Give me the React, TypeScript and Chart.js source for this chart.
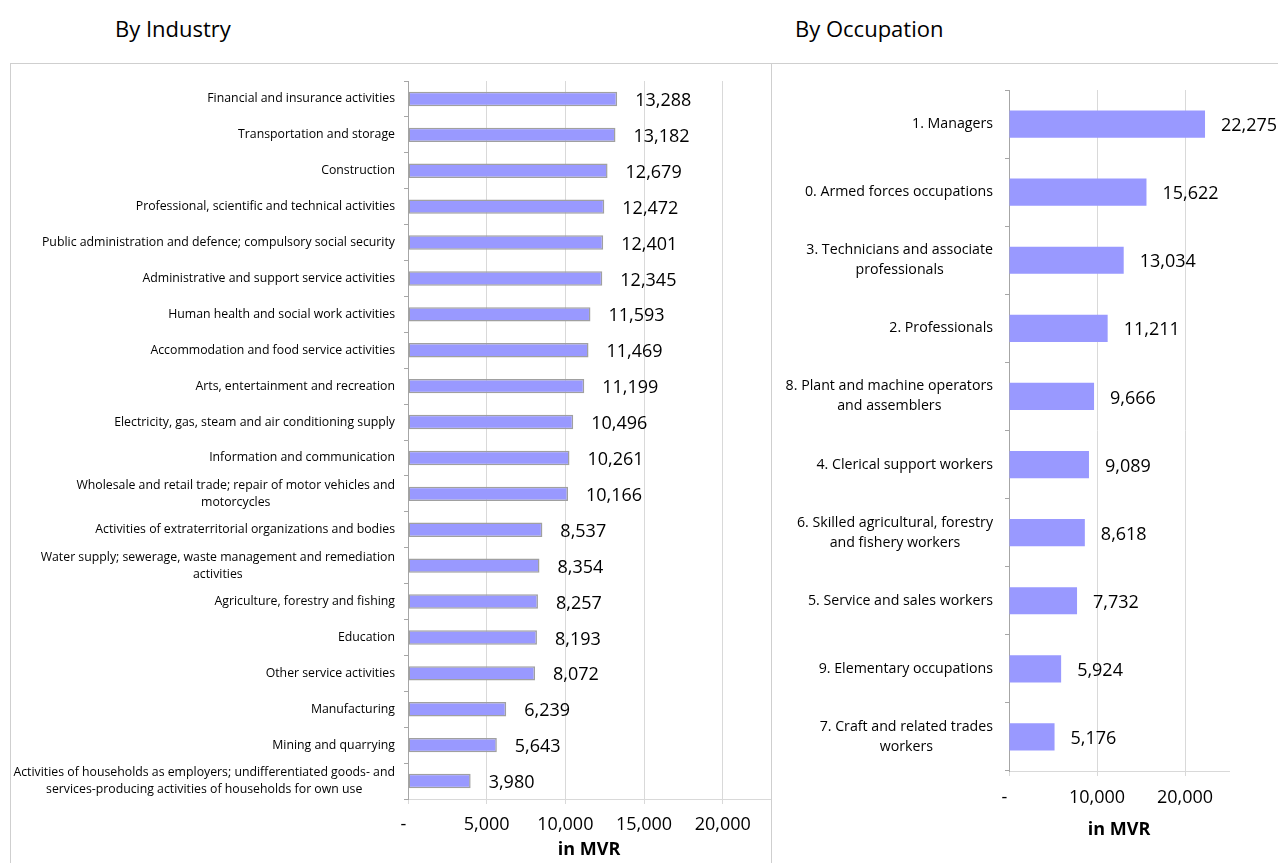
import React, { useEffect, useRef } from "react";
import { Chart, registerables } from "chart.js";

Chart.register(...registerables);

const FONT = "'Open Sans', 'Noto Sans', sans-serif";

// Average monthly wage by industry (MVR)
const industryLabels: (string | string[])[] = [
  "Financial and insurance activities",
  "Transportation and storage",
  "Construction",
  "Professional, scientific and technical activities",
  "Public administration and defence; compulsory social security",
  "Administrative and support service activities",
  "Human health and social work activities",
  "Accommodation and food service activities",
  "Arts, entertainment and recreation",
  "Electricity, gas, steam and air conditioning supply",
  "Information and communication",
  ["Wholesale and retail trade; repair of motor vehicles and", "motorcycles"],
  "Activities of extraterritorial organizations and bodies",
  ["Water supply; sewerage, waste management and remediation", "activities"],
  "Agriculture, forestry and fishing",
  "Education",
  "Other service activities",
  "Manufacturing",
  "Mining and quarrying",
  [
    "Activities of households as employers; undifferentiated goods- and",
    "services-producing activities of households for own use",
  ],
];
const industryValues = [
  13288, 13182, 12679, 12472, 12401, 12345, 11593, 11469, 11199, 10496, 10261,
  10166, 8537, 8354, 8257, 8193, 8072, 6239, 5643, 3980,
];

// Average monthly wage by occupation (MVR)
const occupationLabels: (string | string[])[] = [
  "1. Managers",
  "0. Armed forces occupations",
  ["3. Technicians and associate", "professionals"],
  "2. Professionals",
  ["8. Plant and machine operators", "and assemblers"],
  "4. Clerical support workers",
  ["6. Skilled agricultural, forestry", "and fishery workers"],
  "5. Service and sales workers",
  "9. Elementary occupations",
  ["7. Craft and related trades", "workers"],
];
const occupationValues = [22275, 15622, 13034, 11211, 9666, 9089, 8618, 7732, 5924, 5176];

const industryTicks = [0, 5000, 10000, 15000, 20000];
const occupationTicks = [0, 10000, 20000];
const axisTitle = "in MVR";

const fmt = (v: number) => v.toLocaleString("en-US");
const tickFmt = (v: number) => (v === 0 ? "-  " : fmt(v));

type PanelCfg = {
  labels: (string | string[])[];
  values: number[];
  ticks: number[];
  max: number;
  step: number;
  padding: { top: number; right: number; left: number; bottom: number };
  yWidth: number;
  xHeight: number;
  tickPad: number;
  titlePadBottom: number;
  catFont: number;
  catLineHeight: number;
  catGap: number;
  valueGap: number;
  barBorder: number;
};

// Draws wrapped category names (each block right-aligned, lines centred within it)
// and the value labels to the right of each bar.
function makeLabelPlugin(id: string, cfg: PanelCfg) {
  return {
    id,
    afterDatasetsDraw(chart: any) {
      const ctx = chart.ctx as CanvasRenderingContext2D;
      const y = chart.scales.y;
      ctx.save();
      ctx.fillStyle = "#000";
      ctx.textBaseline = "middle";
      ctx.font = `${cfg.catFont}px ${FONT}`;
      ctx.textAlign = "center";
      const right = chart.chartArea.left - cfg.catGap;
      cfg.labels.forEach((lab, i) => {
        const lines = Array.isArray(lab) ? lab : [lab];
        const w = Math.max(...lines.map((l) => ctx.measureText(l).width));
        const cx = right - w / 2;
        const cy = y.getPixelForTick(i);
        const start = cy - ((lines.length - 1) * cfg.catLineHeight) / 2;
        lines.forEach((l, k) => ctx.fillText(l, cx, start + k * cfg.catLineHeight));
      });
      ctx.font = `18px ${FONT}`;
      ctx.textAlign = "left";
      const meta = chart.getDatasetMeta(0);
      meta.data.forEach((bar: any, i: number) => {
        ctx.fillText(fmt(cfg.values[i]), bar.x + cfg.valueGap, bar.y + 2);
      });
      ctx.restore();
    },
  };
}

function BarPanel({ cfg, width, height, id }: { cfg: PanelCfg; width: number; height: number; id: string }) {
  const ref = useRef<HTMLCanvasElement>(null);
  useEffect(() => {
    if (!ref.current) return;
    const chart = new Chart(ref.current, {
      type: "bar",
      data: {
        labels: cfg.labels as any,
        datasets: [
          {
            data: cfg.values,
            backgroundColor: "#9999FF",
            borderColor: cfg.barBorder > 0 ? "#a0a0a0" : "#9999FF",
            borderWidth: cfg.barBorder,
            borderSkipped: false,
            barPercentage: 0.4,
            categoryPercentage: 1,
          },
        ],
      },
      options: {
        indexAxis: "y",
        responsive: false,
        animation: false,
        layout: { padding: cfg.padding },
        plugins: { legend: { display: false }, tooltip: { enabled: false } },
        scales: {
          x: {
            min: 0,
            max: cfg.max,
            afterFit: (s: any) => {
              s.height = cfg.xHeight;
            },
            afterBuildTicks: (s: any) => {
              s.ticks = cfg.ticks.map((v) => ({ value: v }));
            },
            ticks: {
              stepSize: cfg.step,
              includeBounds: false,
              color: "#000",
              padding: cfg.tickPad,
              maxRotation: 0,
              font: { family: FONT, size: 18 },
              callback: (v: any) => tickFmt(Number(v)),
            },
            grid: { color: "#d9d9d9", tickLength: 5, lineWidth: 1 },
            border: { display: true, color: "#d9d9d9" },
            title: {
              display: true,
              text: axisTitle,
              color: "#000",
              font: { family: FONT, size: 18, weight: "bold" },
              padding: { top: 0, bottom: cfg.titlePadBottom },
            },
          },
          y: {
            afterFit: (s: any) => {
              s.width = cfg.yWidth;
            },
            ticks: { display: false },
            grid: { offset: true, drawOnChartArea: false, tickLength: 4, color: "#a6a6a6" },
            border: { display: true, color: "#a6a6a6" },
          },
        },
      },
      plugins: [makeLabelPlugin(id, cfg)],
    } as any);
    return () => chart.destroy();
  }, []);
  return <canvas ref={ref} width={width} height={height} style={{ display: "block", width, height }} />;
}

const industryCfg: PanelCfg = {
  labels: industryLabels,
  values: industryValues,
  ticks: industryTicks,
  max: 23000,
  step: 5000,
  padding: { top: 17, right: 1, left: 0, bottom: 0 },
  yWidth: 397,
  xHeight: 64,
  tickPad: 10,
  titlePadBottom: 2,
  catFont: 12.3,
  catLineHeight: 17,
  catGap: 13,
  valueGap: 18,
  barBorder: 1.5,
};

const occupationCfg: PanelCfg = {
  labels: occupationLabels,
  values: occupationValues,
  ticks: occupationTicks,
  max: 25000,
  step: 10000,
  padding: { top: 26, right: 49, left: 0, bottom: 0 },
  yWidth: 237,
  xHeight: 92,
  tickPad: 11,
  titlePadBottom: 22,
  catFont: 14.2,
  catLineHeight: 20,
  catGap: 16,
  valueGap: 16,
  barBorder: 0,
};

export default function App() {
  return (
    <div
      style={{
        position: "absolute",
        left: 0,
        top: 0,
        width: 1278,
        height: 863,
        overflow: "hidden",
        background: "#fff",
        fontFamily: FONT,
        color: "#000",
      }}
    >
      <div style={{ position: "absolute", left: 115, top: 13, fontSize: 22, lineHeight: "30px" }}>By Industry</div>
      <div style={{ position: "absolute", left: 795, top: 13, fontSize: 22, lineHeight: "30px" }}>By Occupation</div>
      <div
        style={{
          position: "absolute",
          left: 10,
          top: 63,
          width: 760,
          height: 820,
          border: "1px solid #cfcfcf",
        }}
      />
      <div
        style={{
          position: "absolute",
          left: 771,
          top: 63,
          width: 540,
          height: 820,
          borderTop: "1px solid #cfcfcf",
        }}
      />
      <div style={{ position: "absolute", left: 11, top: 64 }}>
        <BarPanel cfg={industryCfg} width={760} height={799} id="industryLabels" />
      </div>
      <div style={{ position: "absolute", left: 772, top: 64 }}>
        <BarPanel cfg={occupationCfg} width={506} height={799} id="occupationLabels" />
      </div>
    </div>
  );
}
